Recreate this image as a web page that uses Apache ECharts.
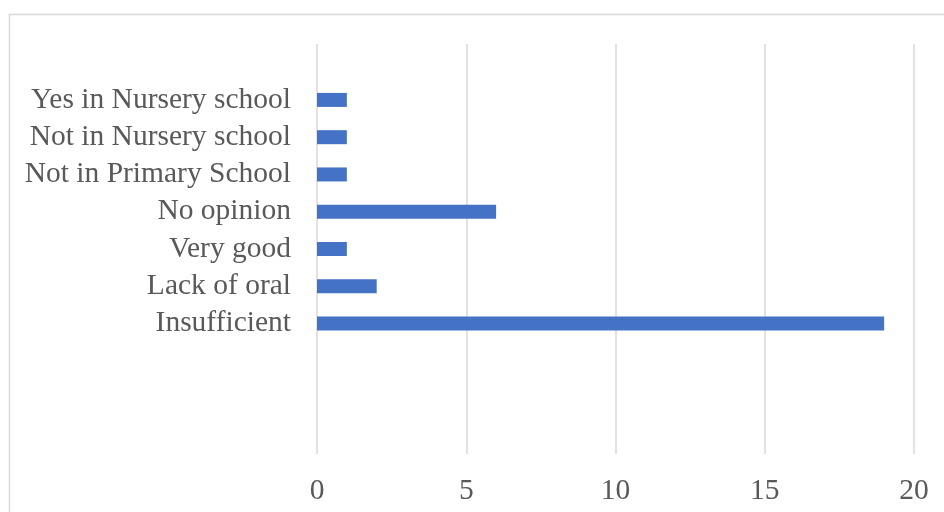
<!DOCTYPE html>
<html>
<head>
<meta charset="utf-8">
<script src="https://cdn.jsdelivr.net/npm/echarts@6/dist/echarts.min.js"></script>
<style>html,body{margin:0;padding:0;background:#fff;}#c{width:944px;height:512px;}</style>
</head>
<body>
<div id="c"></div>
<script>
// categories from bottom to top (blank slots are empty categories in the original)
var categories = ['', '', '', 'Insufficient', 'Lack of oral', 'Very good', 'No opinion', 'Not in Primary School', 'Not in Nursery school', 'Yes in Nursery school', ''];
var values = [null, null, null, 19, 2, 1, 6, 1, 1, 1, null];
var xTicks = [0, 5, 10, 15, 20];

var chart = echarts.init(document.getElementById('c'), null, {renderer: 'canvas'});
chart.setOption({
  animation: false,
  backgroundColor: '#ffffff',
  graphic: [{
    type: 'rect',
    shape: {x: 9.5, y: 14.5, width: 1000, height: 600},
    style: {fill: 'none', stroke: '#d9d9d9', lineWidth: 1.5},
    silent: true
  }],
  grid: {left: 317, right: 30, top: 44, bottom: 58, containLabel: false},
  xAxis: {
    type: 'value',
    min: xTicks[0],
    max: xTicks[xTicks.length - 1],
    interval: 5,
    axisLine: {show: false},
    axisTick: {show: false},
    splitLine: {show: true, lineStyle: {color: '#d9d9d9', width: 1.5}},
    axisLabel: {color: '#595959', fontFamily: 'Liberation Serif', fontSize: 29.5, margin: 22}
  },
  yAxis: {
    type: 'category',
    data: categories,
    axisLine: {show: false},
    axisTick: {show: false},
    splitLine: {show: false},
    axisLabel: {color: '#595959', fontFamily: 'Liberation Serif', fontSize: 29.5, margin: 26, interval: 0}
  },
  series: [{
    type: 'bar',
    data: values,
    barWidth: 14,
    itemStyle: {color: '#4472c4'}
  }]
});
</script>
</body>
</html>
